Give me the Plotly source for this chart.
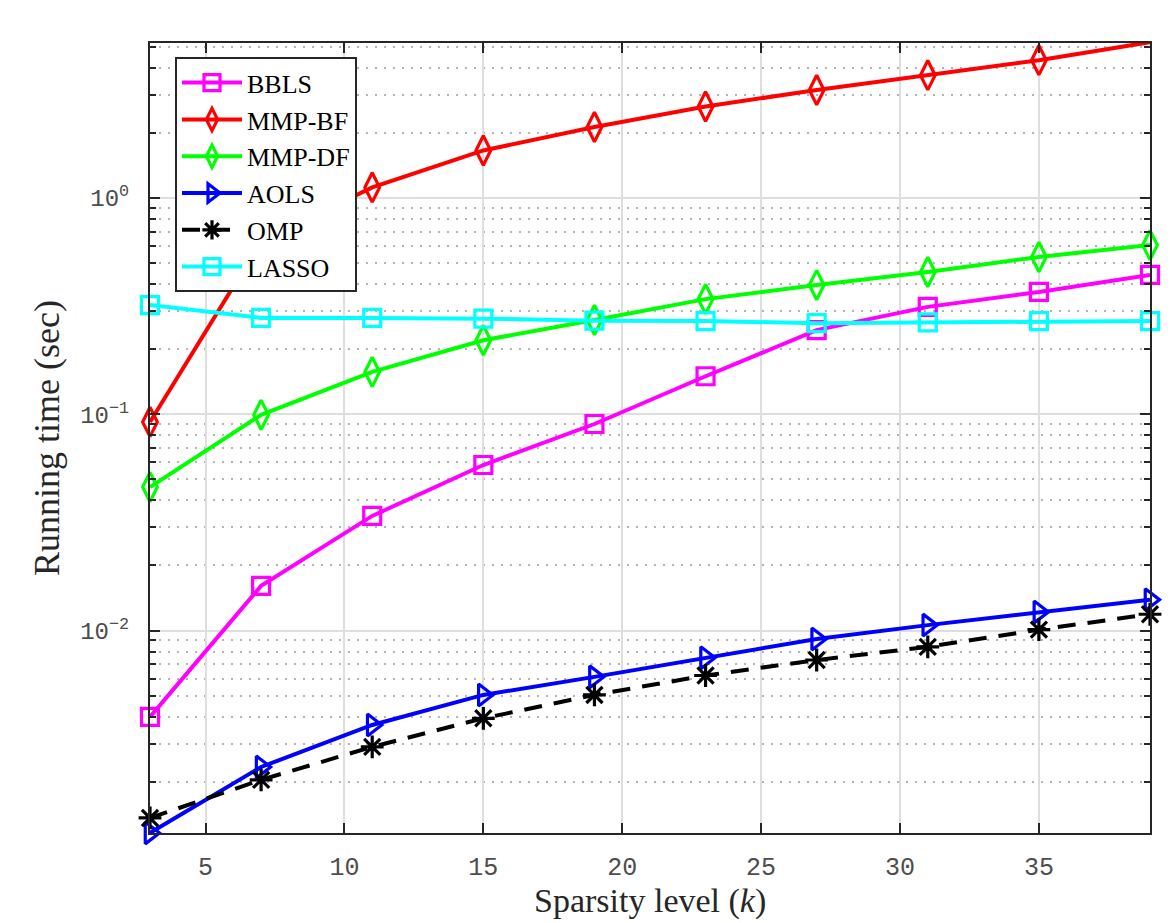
import plotly.graph_objects as go

k = [3, 7, 11, 15, 19, 23, 27, 31, 35, 39]

bbls   = [0.00399, 0.0161, 0.0339, 0.0583, 0.0902, 0.150, 0.245, 0.314, 0.368, 0.441]
mmp_bf = [0.0922, 0.63, 1.12, 1.66, 2.13, 2.65, 3.16, 3.70, 4.34, 5.26]
mmp_df = [0.0461, 0.0994, 0.157, 0.220, 0.273, 0.341, 0.396, 0.455, 0.534, 0.606]
aols   = [0.00116, 0.00234, 0.00366, 0.00504, 0.00611, 0.00749, 0.00914, 0.0106, 0.0122, 0.0139]
omp    = [0.00136, 0.00204, 0.00290, 0.00393, 0.00504, 0.00620, 0.00731, 0.00841, 0.0101, 0.0119]
lasso  = [0.320, 0.279, 0.279, 0.277, 0.271, 0.270, 0.264, 0.266, 0.270, 0.270]

y_tick_vals = [0.01, 0.1, 1]
y_tick_text = ["10<sup>−2</sup>", "10<sup>−1</sup>", "10<sup>0</sup>"]
x_tick_vals = [5, 10, 15, 20, 25, 30, 35]
x_title = "Sparsity level (<i>k</i>)"
y_title = "Running time (sec)"

series = [
    ("BBLS", bbls, "#ff00ff", "square-open", 17, "solid"),
    ("MMP-BF", mmp_bf, "#ff0000", "diamond-tall-open", 21, "solid"),
    ("MMP-DF", mmp_df, "#00ff00", "diamond-tall-open", 21, "solid"),
    ("AOLS", aols, "#0000ff", "triangle-right-open", 19, "solid"),
    ("OMP", omp, "#000000", "asterisk-open", 19, "18px,12px"),
    ("LASSO", lasso, "#00ffff", "square-open", 17, "solid"),
]

fig = go.Figure()
for name, vals, color, sym, size, dash in series:
    fig.add_trace(go.Scatter(
        x=k, y=vals, name=name, mode="lines+markers",
        line=dict(color=color, width=4, dash=dash),
        marker=dict(symbol=sym, size=size, color=color,
                    line=dict(color=color, width=3.2)),
        cliponaxis=False,
    ))

minor_vals = [m * 10 ** e for e in (-3, -2, -1, 0) for m in range(2, 10)]

axis_common = dict(
    showline=True, linecolor="#262626", linewidth=2, mirror="allticks",
    ticks="inside", tickcolor="#262626", tickwidth=2, ticklen=10,
    showgrid=True, gridcolor="#dedede", gridwidth=2, zeroline=False,
    automargin=False,
)

serif = "Liberation Serif, DejaVu Serif, serif"
mono = "Liberation Mono, DejaVu Sans Mono, monospace"

fig.update_layout(
    width=1162, height=915,
    margin=dict(l=142, r=20, t=35, b=90),
    paper_bgcolor="white", plot_bgcolor="white",
    showlegend=True,
    legend=dict(
        x=0.025, y=0.982, xanchor="left", yanchor="top",
        bgcolor="white", bordercolor="#262626", borderwidth=2,
        font=dict(family=serif, size=26, color="black"),
        itemwidth=60, tracegroupgap=0,
    ),
    xaxis=dict(
        range=[3, 39], tickvals=x_tick_vals,
        tickfont=dict(family=mono, size=25, color="#4d4d4d"),
        ticklabelstandoff=10,
        **axis_common,
    ),
    yaxis=dict(
        type="log", range=[-2.936, 0.717],
        tickvals=y_tick_vals, ticktext=y_tick_text,
        tickfont=dict(family=mono, size=24, color="#4d4d4d"),
        ticklabelstandoff=14,
        minor=dict(tickvals=minor_vals, ticks="inside", ticklen=6, tickcolor="#262626",
                   tickwidth=1.5, showgrid=True, gridcolor="#b4b4b4", griddash="2px,7px",
                   gridwidth=2),
        title=dict(text=y_title, standoff=10,
                   font=dict(family=serif, size=36, color="#262626")),
        **axis_common,
    ),
    annotations=[dict(
        text=x_title, xref="paper", yref="paper", x=0.5, y=-0.086,
        xanchor="center", yanchor="middle", showarrow=False,
        font=dict(family=serif, size=34, color="#262626"),
    )],
)

fig.write_html("out.html")
